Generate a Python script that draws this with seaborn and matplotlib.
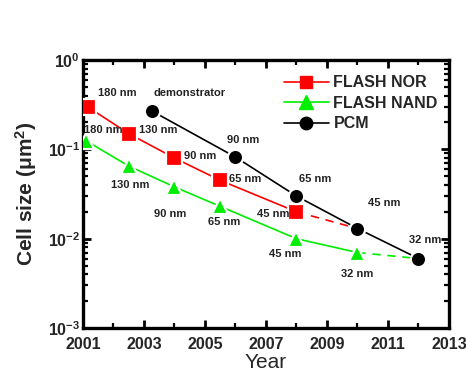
import numpy as np
import pandas as pd
import seaborn as sns
import matplotlib
matplotlib.use("Agg")
import matplotlib.pyplot as plt
from matplotlib.ticker import FixedLocator, LogLocator, FuncFormatter, NullFormatter
from matplotlib.lines import Line2D

# ---- data -------------------------------------------------------------
nor_years = [2001.15, 2002.5, 2004.0, 2005.5, 2008.0]
nor_size = [0.30, 0.15, 0.08, 0.045, 0.020]
nor_nodes = ["180 nm", "130 nm", "90 nm", "65 nm", "45 nm"]
nor_proj_years = [2008.0, 2010.0]
nor_proj_size = [0.020, 0.013]

nand_years = [2001.1, 2002.5, 2004.0, 2005.5, 2008.0, 2010.0]
nand_size = [0.125, 0.065, 0.038, 0.023, 0.010, 0.007]
nand_nodes = ["180 nm", "130 nm", "90 nm", "65 nm", "45 nm", "32 nm"]
nand_proj_years = [2010.0, 2012.0]
nand_proj_size = [0.007, 0.006]

pcm_years = [2003.25, 2006.0, 2008.0, 2010.0, 2012.0]
pcm_size = [0.27, 0.082, 0.030, 0.013, 0.006]
pcm_nodes = ["demonstrator", "90 nm", "65 nm", "45 nm", "32 nm"]

x_ticks = [2001, 2003, 2005, 2007, 2009, 2011, 2013]

# label offsets (pixels) from each marker
nor_off = [(30, 14), (30, 4), (26, 2), (25, 1), (-23, -2)]
nand_off = [(17, 11), (2, -19), (-4, -27), (4, -16), (-11, -15), (0, -21)]
pcm_off = [(38, 18), (8, 17), (19, 17), (27, 26), (7, 19)]

RED = "#ff0000"
GREEN = "#00ee00"
BLACK = "#000000"

sns.set_theme(style="white")
plt.rcParams["font.family"] = ["Liberation Sans", "DejaVu Sans"]
plt.rcParams["mathtext.fontset"] = "custom"
plt.rcParams["mathtext.rm"] = "Liberation Sans:bold"
plt.rcParams["mathtext.bf"] = "Liberation Sans:bold"
plt.rcParams["mathtext.it"] = "Liberation Sans:bold"

fig = plt.figure(figsize=(4.66, 3.81), dpi=100)
ax = fig.add_axes([0.178, 0.139, 0.7855, 0.7035])

series = [
    ("FLASH NOR", nor_years, nor_size, RED, "s", nor_nodes, nor_off),
    ("FLASH NAND", nand_years, nand_size, GREEN, "^", nand_nodes, nand_off),
    ("PCM", pcm_years, pcm_size, BLACK, "o", pcm_nodes, pcm_off),
]

# projected (dashed) segments
for yrs, vals, col in [(nor_proj_years, nor_proj_size, RED),
                       (nand_proj_years, nand_proj_size, GREEN)]:
    sns.lineplot(x=yrs, y=vals, ax=ax, color=col, lw=1.2,
                 linestyle=(0, (5, 4)), legend=False, zorder=2)

handles = []
for name, yrs, vals, col, mk, nodes, offs in series:
    df = pd.DataFrame({"year": yrs, "size": vals})
    sns.lineplot(data=df, x="year", y="size", ax=ax, color=col, lw=1.2,
                 marker=mk, markersize=11 if mk != "^" else 12,
                 markeredgecolor="white", markeredgewidth=1.6,
                 legend=False, zorder=3)
    for xv, yv, lab, (dx, dy) in zip(yrs, vals, nodes, offs):
        ax.annotate(lab, (xv, yv), xytext=(dx, dy), textcoords="offset pixels",
                    ha="center", va="center", fontsize=8, fontweight="bold",
                    color="#222222", zorder=5)
    handles.append(Line2D([], [], color=col, lw=1.2, marker=mk,
                          markersize=9 if mk != "^" else 10,
                          markeredgecolor=col, label=name))

ax.set_yscale("log")
ax.set_xlim(2001, 2013)
ax.set_ylim(1e-3, 1)

ax.xaxis.set_major_locator(FixedLocator(x_ticks))
ax.xaxis.set_minor_locator(FixedLocator([2002, 2004, 2006, 2008, 2010, 2012]))
ax.set_xticklabels([str(t) for t in x_ticks], fontsize=11.5, fontweight="bold")

ax.yaxis.set_major_locator(LogLocator(base=10, numticks=10))
ax.yaxis.set_minor_locator(LogLocator(base=10, subs=np.arange(2, 10), numticks=20))
ax.yaxis.set_major_formatter(
    FuncFormatter(lambda v, p: r"$\mathbf{10^{%d}}$" % int(round(np.log10(v)))))
ax.yaxis.set_minor_formatter(NullFormatter())
ax.tick_params(axis="y", labelsize=11.5, pad=2)

ax.tick_params(which="both", direction="in", top=True, right=True,
               bottom=True, left=True, color="black")
ax.tick_params(which="major", length=6, width=2)
ax.tick_params(axis="x", which="major", pad=6.5)
ax.tick_params(which="minor", length=3.5, width=1.6)

for s in ax.spines.values():
    s.set_linewidth(2.4)
    s.set_color("black")

ax.set_xlabel("Year", fontsize=15, labelpad=0.5)
ax.set_ylabel(r"Cell size ($\mathbf{\mu}$m$^{\mathbf{2}}$)", fontsize=15,
              fontweight="bold", labelpad=6)
ax.grid(False)

leg = ax.legend(handles=handles, loc="upper right", frameon=False,
                prop={"family": "Liberation Sans", "weight": "bold", "size": 11.5},
                handlelength=2.8, handletextpad=0.3, labelspacing=0.35,
                borderaxespad=0.3, bbox_to_anchor=(1.0, 0.985))

fig.savefig("out.png", dpi=100, facecolor="white")
